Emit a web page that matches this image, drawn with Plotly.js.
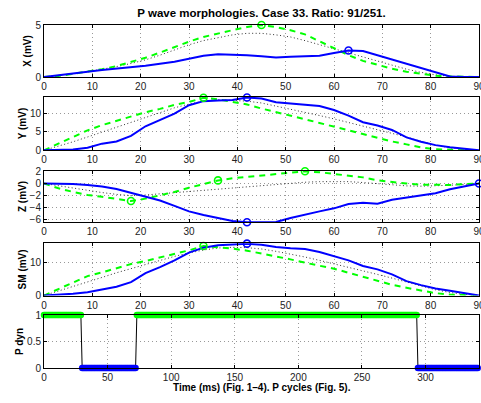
<!DOCTYPE html>
<html>
<head>
<meta charset="utf-8">
<script src="https://cdn.plot.ly/plotly-3.0.1.min.js"></script>
<style>html,body{margin:0;padding:0;background:#fff}#chart{width:481px;height:403px}</style>
</head>
<body>
<div id="chart"></div>
<script>
// Sample positions (ms) for panels 1-4
const t = [0,3,6,9,12,15,18,21,24,27,30,33,36,39,42,45,48,51,54,57,60,63,66,69,72,75,78,81,84,87,90];

const xBlue  = [0,0.15,0.32,0.5,0.68,0.82,0.92,1.08,1.28,1.47,1.75,2.05,2.18,2.15,2.1,2.0,1.88,1.95,2.0,2.05,2.3,2.55,2.5,2.1,1.7,1.3,0.85,0.45,0.05,0,0];
const xGreen = [0,0.1,0.3,0.52,0.75,1.05,1.45,1.85,2.35,2.9,3.4,3.85,4.2,4.5,4.8,5.0,4.8,4.5,4.1,3.45,2.75,2.1,1.55,1.15,0.8,0.5,0.28,0.12,0.05,0.02,0];
const xMean  = [0,0.12,0.3,0.5,0.72,1.0,1.3,1.65,2.1,2.6,3.1,3.5,3.8,4.05,4.2,4.2,4.05,3.85,3.5,3.1,2.7,2.3,1.9,1.5,1.1,0.75,0.45,0.2,0.08,0.02,0];

const yBlue  = [0,0.05,0.2,0.7,1.8,2.4,3.9,6.5,8.2,9.9,12.2,13.3,13.5,13.6,14.3,14.0,13.0,12.6,12.4,12.0,10.9,9.4,7.6,6.7,5.5,3.5,2.3,1.4,0.8,0.35,0];
const yGreen = [0,1.8,3.6,5.4,6.8,8.0,9.3,10.3,11.2,12.3,13.1,14.2,13.8,13.2,12.4,11.3,10.4,9.5,8.4,7.4,6.4,5.3,4.3,3.2,2.4,1.6,0.8,0.3,0.1,0.02,0];
const yMean  = [0,1.1,2.3,3.6,4.9,6.2,7.5,9.0,10.3,11.5,12.5,13.3,13.7,13.6,13.3,12.8,12.0,11.2,10.3,9.4,8.5,7.5,6.6,5.7,4.7,3.6,2.4,1.4,0.7,0.2,0];

const zBlue  = [0,-0.02,-0.1,-0.25,-0.5,-0.9,-1.5,-2.2,-2.8,-3.7,-4.6,-5.2,-5.7,-6.2,-6.4,-6.4,-6.35,-5.7,-5.1,-4.6,-4.1,-3.4,-3.2,-3.35,-2.7,-2.3,-2.0,-1.6,-0.95,-0.45,0];
const zGreen = [0,-0.8,-1.4,-1.9,-2.2,-2.6,-2.9,-2.5,-2.0,-1.4,-0.7,-0.05,0.5,0.85,1.1,1.35,1.6,1.8,2.0,1.85,1.6,1.3,1.0,0.5,0.2,0.0,-0.2,-0.28,-0.25,-0.1,0];
const zMean  = [0,-0.4,-0.8,-1.2,-1.5,-1.8,-2.0,-1.9,-1.7,-1.5,-1.3,-1.1,-0.9,-0.7,-0.5,-0.3,-0.1,0.05,0.2,0.3,0.35,0.3,0.15,-0.05,-0.25,-0.4,-0.45,-0.4,-0.3,-0.15,0];

const smBlue  = [0,0.2,0.5,1.0,1.9,2.6,4.0,6.7,8.5,10.5,12.8,14.3,15.0,15.3,15.5,15.2,14.5,14.1,13.9,13.0,11.8,10.5,8.8,7.8,6.3,4.3,3.1,2.1,1.4,0.7,0];
const smGreen = [0,2.0,4.0,5.8,6.9,8.1,9.4,10.3,11.3,12.4,13.5,14.8,14.5,14.0,13.4,12.6,11.8,10.8,9.8,8.9,8.0,6.8,5.6,4.4,3.2,2.3,1.4,0.7,0.3,0.1,0];
const smMean  = [0,1.3,2.7,4.1,5.4,6.8,8.0,9.3,10.6,11.7,12.7,13.6,14.2,14.4,14.3,13.9,13.2,12.4,11.5,10.5,9.5,8.5,7.4,6.3,5.2,4.0,2.8,1.7,0.9,0.3,0];

// Marked points (ms) on each panel
const xMarkGreen = [45], xMarkBlue = [63];
const yMarkGreen = [33], yMarkBlue = [42];
const zMarkGreen = [18,36,54], zMarkBlue = [42,90];
const smMarkGreen = [33], smMarkBlue = [42];

// P dynamics: run lengths of states over the P cycles
const runLengths = [30,43,221,48];
const runStates  = [1,0,1,0];

const labels = ["X (mV)","Y (mV)","Z (mV)","SM (mV)","P dyn"];
const yRanges = [[0,5],[0,14.5],[-6.4,2.1],[0,15.6],[0,1]];
const yTicks = [[0,5],[0,5,10],[-6,-4,-2,0,2],[0,10],[0,0.5,1]];

const FONT = "Liberation Sans, Arial, Helvetica, sans-serif";
const W = 481, H = 403;
const px2y = p => 1 - p / H;
const domX = [44/W, 479/W];
const yDoms = [[77,25],[150.3,96.7],[222.3,170.7],[295.5,243.3],[368,315]].map(d => [px2y(d[0]), px2y(d[1])]);

const traces = [];
function panel(i, blue, green, mean, mg, mb) {
  const ax = i === 0 ? '' : String(i+1);
  const xa = 'x'+ax, ya = 'y'+ax;
  traces.push({x:t, y:mean, xaxis:xa, yaxis:ya, mode:'lines', line:{color:'#333', width:1, dash:'1px,2.5px'}, hoverinfo:'skip'});
  traces.push({x:t, y:green, xaxis:xa, yaxis:ya, mode:'lines', line:{color:'#00ff00', width:2, dash:'6px,5px'}});
  traces.push({x:t, y:blue, xaxis:xa, yaxis:ya, mode:'lines', line:{color:'#0000ff', width:2}});
  traces.push({x:mg, y:mg.map(v => green[t.indexOf(v)]), xaxis:xa, yaxis:ya, mode:'markers', cliponaxis:false,
    marker:{symbol:'circle-open', size:7, color:'#00ff00', line:{width:1.6, color:'#00ff00'}}});
  traces.push({x:mb, y:mb.map(v => blue[t.indexOf(v)]), xaxis:xa, yaxis:ya, mode:'markers', cliponaxis:false,
    marker:{symbol:'circle-open', size:7, color:'#0000ff', line:{width:1.6, color:'#0000ff'}}});
}
panel(0, xBlue, xGreen, xMean, xMarkGreen, xMarkBlue);
panel(1, yBlue, yGreen, yMean, yMarkGreen, yMarkBlue);
panel(2, zBlue, zGreen, zMean, zMarkGreen, zMarkBlue);
panel(3, smBlue, smGreen, smMean, smMarkGreen, smMarkBlue);

// build P dyn state sequence
const cyc = [], st = [];
let k = 0;
runLengths.forEach((n, r) => { for (let j = 0; j < n; j++) { cyc.push(k++); st.push(runStates[r]); } });
traces.push({x:cyc, y:st, xaxis:'x5', yaxis:'y5', mode:'lines', line:{color:'#000', width:1}});
traces.push({x:cyc.filter((c,j)=>st[j]===1), y:st.filter(s=>s===1), xaxis:'x5', yaxis:'y5', mode:'markers', cliponaxis:false,
  marker:{color:'#00ff00', size:6.5, line:{width:0}}});
traces.push({x:cyc.filter((c,j)=>st[j]===0), y:st.filter(s=>s===0), xaxis:'x5', yaxis:'y5', mode:'markers', cliponaxis:false,
  marker:{color:'#0000ff', size:6.5, line:{width:0}}});

const layout = {
  width: W, height: H, showlegend: false,
  paper_bgcolor: '#fff', plot_bgcolor: '#fff',
  margin: {l:0, r:0, t:0, b:0},
  font: {family: FONT, size: 10, color: '#000'},
  title: {text: '<b>P wave morphologies. Case 33. Ratio: 91/251.</b>', font:{family:FONT, size:11.5, color:'#000'},
    x: 261.5/W, xanchor:'center', y: 1 - 13/H, yanchor:'middle'},
  annotations: [{text:'<b>Time (ms) (Fig. 1–4). P cycles (Fig. 5).</b>', xref:'paper', yref:'paper',
    x: 261.5/W, y: 1 - 387/H, xanchor:'center', yanchor:'middle', showarrow:false, font:{family:FONT, size:10, color:'#000'}}]
};
for (let i = 0; i < 5; i++) {
  const ax = i === 0 ? '' : String(i+1);
  const common = {showline:true, linecolor:'#000', linewidth:1, mirror:'ticks', ticks:'inside', ticklen:3,
    tickcolor:'#000', showgrid:true, gridcolor:'#999', griddash:'1px,3px', gridwidth:1, zeroline:false,
    ticklabeloverflow:'allow', tickfont:{family:FONT, size:10, color:'#222'}};
  layout['xaxis'+ax] = Object.assign({}, common, {
    domain: domX, anchor: 'y'+ax,
    range: i < 4 ? [0,90] : [0,342],
    tickvals: i < 4 ? [0,10,20,30,40,50,60,70,80,90] : [0,50,100,150,200,250,300],
    ticktext: i < 4 ? ['0','10','20','30','40','50','60','70','80','90'] : ['0','50','100','150','200','250','300']
  });
  layout['yaxis'+ax] = Object.assign({}, common, {
    domain: yDoms[i], anchor: 'x'+ax, range: yRanges[i], tickvals: yTicks[i],
    title: {text: '<b>'+labels[i]+'</b>', font:{family:FONT, size:10, color:'#000'}, standoff: 1}
  });
}
Plotly.newPlot('chart', traces, layout, {staticPlot:true});
</script>
</body>
</html>
